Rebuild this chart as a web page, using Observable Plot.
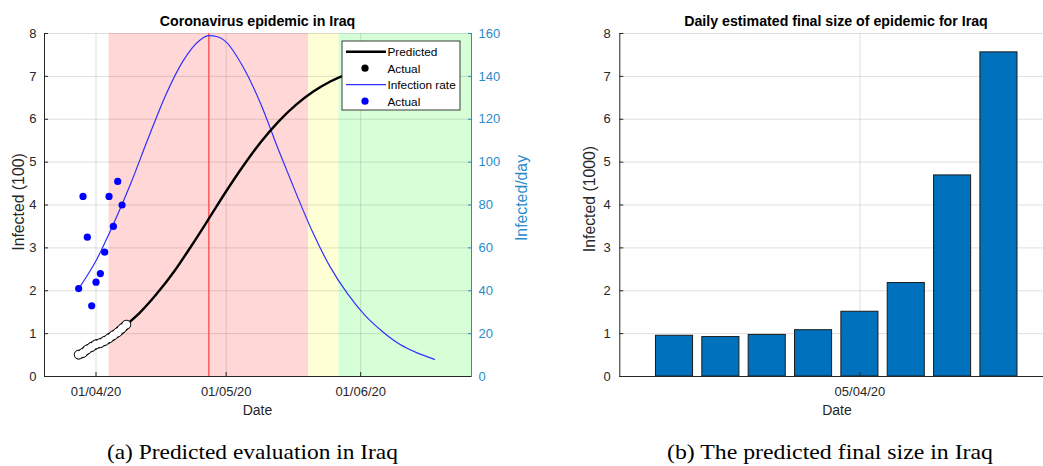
<!DOCTYPE html>
<html><head><meta charset="utf-8">
<script src="https://cdn.jsdelivr.net/npm/d3@7"></script>
<script src="https://cdn.jsdelivr.net/npm/@observablehq/plot@0.6"></script>
<style>
body{margin:0;width:1043px;height:466px;overflow:hidden;background:#fff;position:relative;font-family:"Liberation Sans",Arial,sans-serif}
#left,#right,#overlay{position:absolute;top:0}
#left{left:0;width:530px}
#right{left:530px;width:525px}
#left svg,#right svg{max-width:none !important}
#overlay{left:0;pointer-events:none}
</style></head><body>
<div id="left"></div><div id="right"></div>
<svg id="overlay" width="1043" height="466"></svg>
<script>
// ---- Data ----
// Cumulative actual infected (hundreds, as labelled)
const cumDates = ["2020-03-28","2020-03-29","2020-03-30","2020-03-31","2020-04-01","2020-04-02","2020-04-03","2020-04-04","2020-04-05","2020-04-06","2020-04-07","2020-04-08"];
const cumValues = [0.51,0.55,0.63,0.69,0.75,0.78,0.83,0.89,0.96,1.03,1.12,1.21];
// Daily actual new infections (per day)
const dailyDates = ["2020-03-28","2020-03-29","2020-03-30","2020-03-31","2020-04-01","2020-04-02","2020-04-03","2020-04-04","2020-04-05","2020-04-06","2020-04-07"];
const dailyValues = [41,84,65,33,44,48,58,84,70,91,80];
// Predicted cumulative curve
const predDates = ["2020-04-08","2020-04-11","2020-04-15","2020-04-19","2020-04-23","2020-04-27","2020-05-01","2020-05-05","2020-05-09","2020-05-13","2020-05-17","2020-05-21","2020-05-25","2020-05-29","2020-06-02","2020-06-06","2020-06-10","2020-06-14","2020-06-18"];
const predValues = [1.21,1.48,1.93,2.45,3.05,3.68,4.32,4.92,5.47,5.94,6.33,6.64,6.88,7.06,7.20,7.29,7.37,7.42,7.46];
// Predicted infection rate (per day)
const rateDates = ["2020-03-28","2020-04-01","2020-04-05","2020-04-09","2020-04-13","2020-04-17","2020-04-21","2020-04-25","2020-04-27","2020-04-29","2020-05-01","2020-05-05","2020-05-09","2020-05-13","2020-05-17","2020-05-21","2020-05-25","2020-05-29","2020-06-02","2020-06-06","2020-06-10","2020-06-14","2020-06-18"];
const rateValues = [41,54,71,90,111,131,147,157,159,158.5,156,144,127,106,86,67,51,38.5,28.5,21,15,11,8];
// Phase periods
const phaseNames = ["phase1","phase2","phase3"];
const phaseStarts = ["2020-04-04","2020-05-20","2020-05-27"];
const phaseEnds = ["2020-05-20","2020-05-27",null];
const peakDate = "2020-04-27";
// Daily estimated final size (thousands)
const barDates = ["2020-04-01","2020-04-02","2020-04-03","2020-04-04","2020-04-05","2020-04-06","2020-04-07","2020-04-08"];
const barValues = [0.95,0.92,0.97,1.08,1.51,2.18,4.69,7.56];
// Tick labels
const xTicksLeft = ["2020-04-01","2020-05-01","2020-06-01"];
const xTicksRight = ["2020-04-05"];
const yTicks = [0,1,2,3,4,5,6,7,8];

// ---- Build ----
const parse = s => new Date(s + "T00:00:00Z");
const ink = "#262626";
const axBlue = "#2a8bcb";
const fmt = d3.utcFormat("%d/%m/%y");
const font = "'Liberation Sans', Arial, sans-serif";

const xDomL = [new Date("2020-03-20T03:00:00Z"), new Date("2020-06-26T13:00:00Z")];
const xDomR = [new Date("2020-03-30T19:40:00Z"), new Date("2020-04-09T05:17:00Z")];

const cum = cumDates.map((d,i)=>({date:parse(d), v:cumValues[i]}));
const daily = dailyDates.map((d,i)=>({date:parse(d), v:dailyValues[i]}));
const pred = predDates.map((d,i)=>({date:parse(d), v:predValues[i]}));
const rate = rateDates.map((d,i)=>({date:parse(d), v:rateValues[i]}));
const phases = phaseNames.map((n,i)=>({name:n, x1:parse(phaseStarts[i]), x2: phaseEnds[i] ? parse(phaseEnds[i]) : xDomL[1]}));
const bars = barDates.map((d,i)=>({date:parse(d), v:barValues[i]}));
const DAY = 864e5;

const styleCommon = {fontFamily: font, fontSize: "13px", color: ink, background: "transparent", overflow: "visible", maxWidth: "none"};

const left = Plot.plot({
  width: 530, height: 420, marginLeft: 44, marginRight: 59, marginTop: 33, marginBottom: 44,
  style: styleCommon,
  x: {type: "utc", domain: xDomL},
  y: {domain: [0, 8]},
  color: {domain: phaseNames, range: ["#ffd7d7", "#ffffd5", "#d7ffd7"]},
  marks: [
    Plot.rect(phases, {x1: "x1", x2: "x2", fill: "name"}),
    Plot.gridX(xTicksLeft.map(parse), {stroke: ink, strokeOpacity: 0.15}),
    Plot.gridY(yTicks, {stroke: ink, strokeOpacity: 0.15}),
    Plot.ruleX([parse(peakDate)], {stroke: "#ff4444", strokeOpacity: 0.8, strokeWidth: 1.6}),
    Plot.line(rate, {x: "date", y: d => d.v / 20, stroke: "#3030ff", strokeWidth: 1.2, curve: "monotone-x"}),
    Plot.line(pred, {x: "date", y: "v", stroke: "#000", strokeWidth: 2.4, curve: "monotone-x"}),
    Plot.line(cum, {x: "date", y: "v", stroke: "black", strokeWidth: 9.4, curve: "monotone-x"}),
    Plot.dot(cum, {x: "date", y: "v", r: 4.4, fill: "white", stroke: "black", strokeWidth: 0.9}),
    Plot.line(cum, {x: "date", y: "v", stroke: "white", strokeWidth: 6.6, curve: "monotone-x"}),
    Plot.dot(daily, {x: "date", y: d => d.v / 20, r: 3.6, fill: "#0000ff"}),
    Plot.axisY(yTicks, {anchor: "left", tickSize: -4, tickPadding: 12, stroke: ink, fill: ink, label: null}),
    Plot.axisY(yTicks, {anchor: "right", tickSize: -4, tickPadding: 11, tickFormat: d => String(d * 20), stroke: axBlue, fill: axBlue, label: null}),
    Plot.axisX(xTicksLeft.map(parse), {anchor: "bottom", tickSize: -4, tickPadding: 14, tickFormat: fmt, stroke: ink, fill: ink, label: null}),
    Plot.ruleX([xDomL[0]], {stroke: ink}),
    Plot.ruleX([xDomL[1]], {stroke: axBlue}),
    Plot.ruleY([0], {stroke: ink})
  ]
});
document.getElementById("left").append(left);

const right = Plot.plot({
  width: 525, height: 420, marginLeft: 89.3, marginRight: 0, marginTop: 33, marginBottom: 44,
  style: styleCommon,
  x: {type: "utc", domain: xDomR},
  y: {domain: [0, 8]},
  marks: [
    Plot.gridX(xTicksRight.map(parse), {stroke: ink, strokeOpacity: 0.15}),
    Plot.gridY(yTicks, {stroke: ink, strokeOpacity: 0.15}),
    Plot.rect(bars, {x1: d => new Date(+d.date - 0.4 * DAY), x2: d => new Date(+d.date + 0.4 * DAY), y1: 0, y2: "v", fill: "#0072bd", stroke: "#1a1a1a", strokeWidth: 1}),
    Plot.axisY(yTicks, {anchor: "left", tickSize: -4, tickPadding: 13, stroke: ink, fill: ink, label: null}),
    Plot.axisX(xTicksRight.map(parse), {anchor: "bottom", tickSize: -4, tickPadding: 14, tickFormat: fmt, stroke: ink, fill: ink, label: null}),
    Plot.ruleX([xDomR[0]], {stroke: ink}),
    Plot.ruleY([0], {stroke: ink})
  ]
});
document.getElementById("right").append(right);

// ---- Titles, labels, legend, captions ----
const ov = d3.select("#overlay");
const titles = [
  {t: "Coronavirus epidemic in Iraq", x: 257.5, y: 26},
  {t: "Daily estimated final size of epidemic for Iraq", x: 836, y: 26}
];
titles.forEach(o => ov.append("text").attr("x", o.x).attr("y", o.y).attr("text-anchor", "middle")
  .attr("font-family", font).attr("font-weight", "bold").attr("font-size", 14.2).attr("fill", "#000").text(o.t));
[{t: "Date", x: 257.5}, {t: "Date", x: 837}].forEach(o => ov.append("text").attr("x", o.x).attr("y", 415)
  .attr("text-anchor", "middle").attr("font-family", font).attr("font-size", 14).attr("fill", ink).text(o.t));
[{t: "Infected (100)", x: 24, y: 202, c: ink}, {t: "Infected/day", x: 526.5, y: 198, c: axBlue}, {t: "Infected (1000)", x: 595, y: 199, c: ink}]
  .forEach(o => ov.append("text").attr("transform", `translate(${o.x},${o.y}) rotate(-90)`).attr("text-anchor", "middle")
  .attr("font-family", font).attr("font-size", 15.8).attr("fill", o.c).text(o.t));

// legend
const legendItems = [
  {label: "Predicted", kind: "line", color: "#000", w: 2.6},
  {label: "Actual", kind: "dot", color: "#000"},
  {label: "Infection rate", kind: "line", color: "#3030ff", w: 1.2},
  {label: "Actual", kind: "dot", color: "#0000ff"}
];
const lg = ov.append("g");
lg.append("rect").attr("x", 342).attr("y", 41).attr("width", 118).attr("height", 69)
  .attr("fill", "#fff").attr("stroke", ink).attr("stroke-width", 0.9);
legendItems.forEach((it, i) => {
  const cy = 51.7 + i * 16.5;
  if (it.kind === "line") lg.append("line").attr("x1", 346).attr("x2", 386).attr("y1", cy).attr("y2", cy)
    .attr("stroke", it.color).attr("stroke-width", it.w);
  else lg.append("circle").attr("cx", 365).attr("cy", cy).attr("r", 3.6).attr("fill", it.color);
  lg.append("text").attr("x", 387.5).attr("y", cy + 4.3).attr("font-family", font).attr("font-size", 11.8)
    .attr("fill", "#000").text(it.label);
});

// captions
[{t: "(a) Predicted evaluation in Iraq", x: 252.4, w: 291}, {t: "(b) The predicted final size in Iraq", x: 830, w: 326}]
  .forEach(o => ov.append("text").attr("x", o.x).attr("y", 459).attr("text-anchor", "middle")
  .attr("textLength", o.w).attr("lengthAdjust", "spacingAndGlyphs")
  .attr("font-family", "'Liberation Serif', 'Times New Roman', serif").attr("font-size", 22).attr("fill", "#000").text(o.t));
</script>
</body></html>
